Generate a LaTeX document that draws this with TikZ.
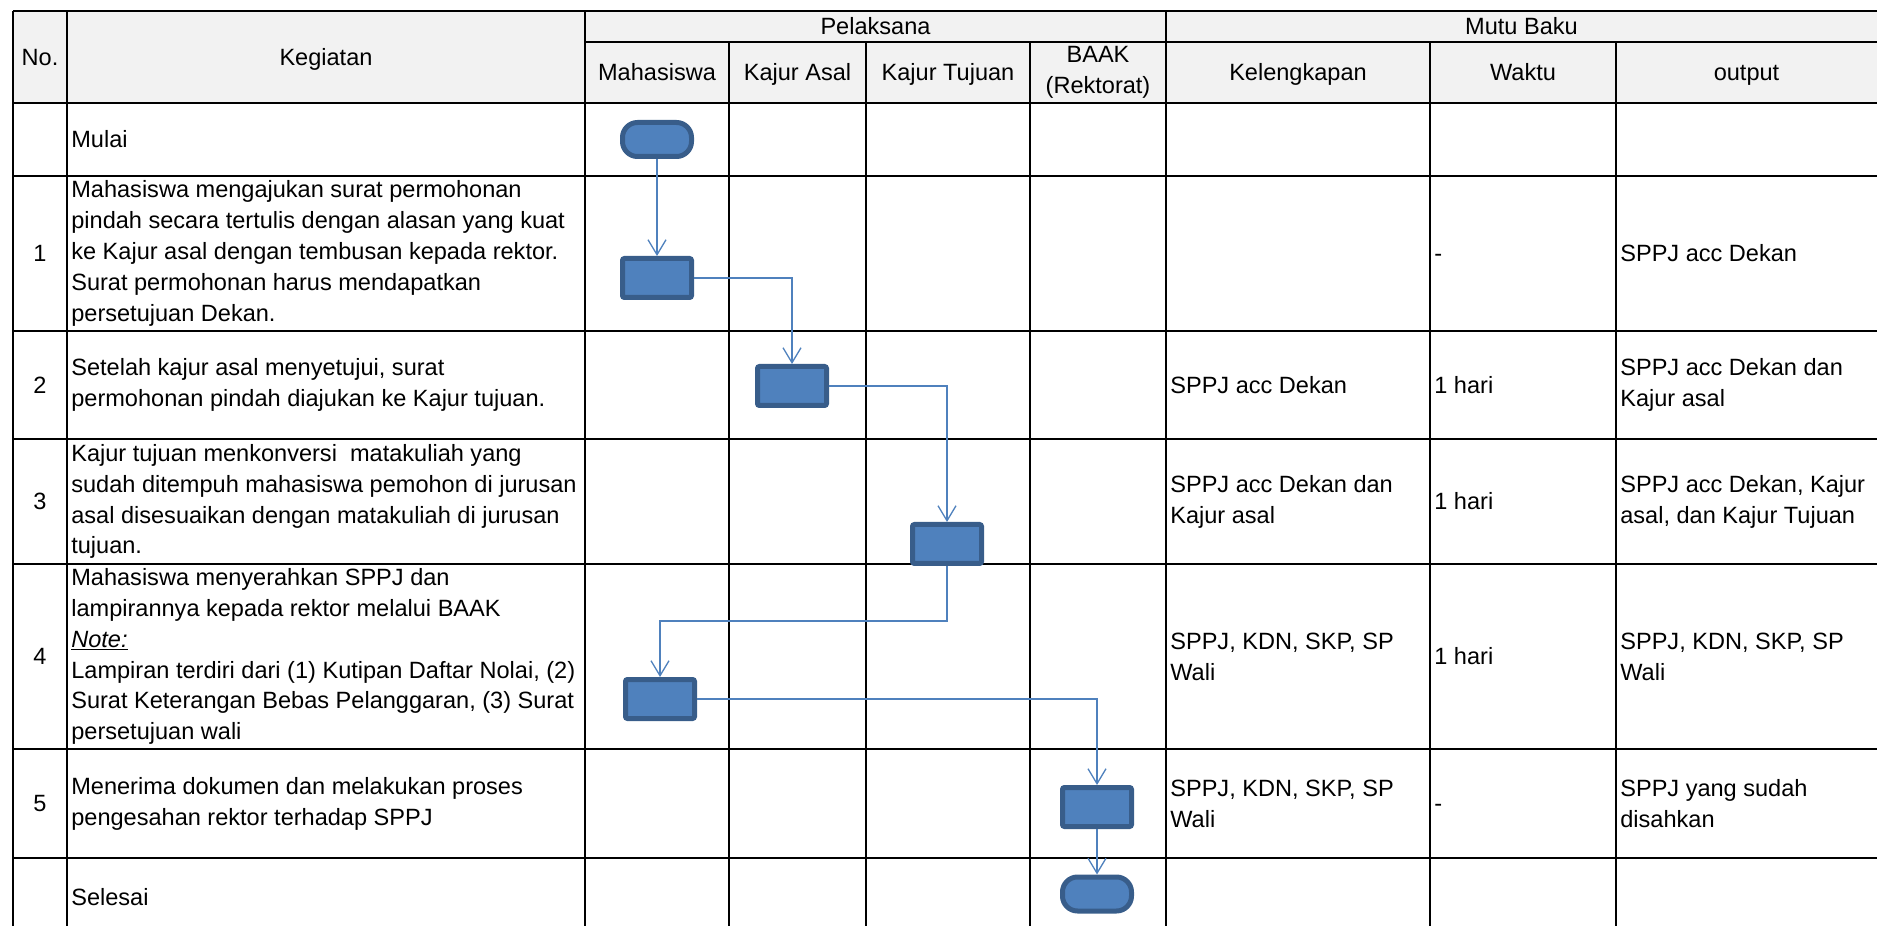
\documentclass[tikz,border=0pt]{standalone}
\usepackage{fontspec}
\setmainfont{Liberation Sans}
\usepackage{tikz}
\usetikzlibrary{arrows.meta, positioning, shapes}

\definecolor{headgray}{HTML}{F2F2F2}
\definecolor{flowfill}{HTML}{4F81BD}
\definecolor{flowline}{HTML}{385D8A}

\begin{document}
\begin{tikzpicture}[
  txt/.style={draw=none, inner sep=0pt, font=\fontsize{13.4pt}{17.6pt}\selectfont},
  cell/.style={txt, text height=12.1pt, text depth=2.8pt},
  grid/.style={draw=black, line width=0.032cm},
  proc/.style={draw=flowline, fill=flowfill, line width=0.1cm, rounded corners=0.04cm,
               minimum width=1.38cm, minimum height=0.78cm, inner sep=0pt},
  term/.style={proc, rounded corners=0.3cm, minimum height=0.68cm},
  flow/.style={->, draw=flowfill, line width=0.026cm},
  >={Straight Barb[length=0.3cm, width=0.36cm]}
]

\useasboundingbox (0cm, 0cm) rectangle (37.54cm, 18.52cm);

\def \xno{0.26cm}   % left border
\def \xkeg{1.34cm}  % No. | Kegiatan
\def \xmhs{11.70cm} % Kegiatan | Mahasiswa
\def \xasal{14.58cm}
\def \xtuj{17.32cm}
\def \xbaak{20.60cm}
\def \xkel{23.32cm}
\def \xwak{28.60cm}
\def \xout{32.32cm}
\def \xend{37.54cm}

\def \ytop{18.30cm}
\def \ysub{17.68cm}  % under Pelaksana / Mutu Baku
\def \yhead{16.46cm} % bottom of header
\def \yrowa{15.00cm} % bottom of Mulai
\def \yrowb{11.90cm}
\def \yrowc{9.74cm}
\def \yrowd{7.24cm}
\def \yrowe{3.54cm}
\def \yrowf{1.36cm}
\def \ysel{0.58cm}   % Selesai
\def \ybot{0cm}

\def \pad{0.08cm}

% header background
\fill[headgray] (\xno, \ytop) rectangle (\xend, \yhead);

% hor lines from top to bottom
\draw[grid] (\xno , \ytop)  -- (\xend, \ytop);
\draw[grid] (\xmhs, \ysub)  -- (\xend, \ysub);
\draw[grid] (\xno , \yhead) -- (\xend, \yhead);
\draw[grid] (\xno , \yrowa) -- (\xend, \yrowa);
\draw[grid] (\xno , \yrowb) -- (\xend, \yrowb);
\draw[grid] (\xno , \yrowc) -- (\xend, \yrowc);
\draw[grid] (\xno , \yrowd) -- (\xend, \yrowd);
\draw[grid] (\xno , \yrowe) -- (\xend, \yrowe);
\draw[grid] (\xno , \yrowf) -- (\xend, \yrowf);

% vert lines from left to right
\draw[grid] (\xno  , \ytop) -- (\xno  , \ybot);
\draw[grid] (\xkeg , \ytop) -- (\xkeg , \ybot);
\draw[grid] (\xmhs , \ytop) -- (\xmhs , \ybot);
\draw[grid] (\xasal, \ysub) -- (\xasal, \ybot);
\draw[grid] (\xtuj , \ysub) -- (\xtuj , \ybot);
\draw[grid] (\xbaak, \ysub) -- (\xbaak, \ybot);
\draw[grid] (\xkel , \ytop) -- (\xkel , \ybot);
\draw[grid] (\xwak , \ysub) -- (\xwak , \ybot);
\draw[grid] (\xout , \ysub) -- (\xout , \ybot);

% header text
\node[cell] (hno)   at (\xno/2 + \xkeg/2, \ytop/2 + \yhead/2) {No.};
\node[cell] (hkeg)  at (\xkeg/2 + \xmhs/2, \ytop/2 + \yhead/2) {Kegiatan};
\node[cell] (hpel)  at (\xmhs/2 + \xkel/2, \ytop/2 + \ysub/2)  {Pelaksana};
\node[cell] (hmutu) at (\xkel/2 + \xend/2, \ytop/2 + \ysub/2)  {Mutu Baku};
\node[cell] (hmhs)  at (\xmhs/2 + \xasal/2, \ysub/2 + \yhead/2) {Mahasiswa};
\node[cell] (hasal) at (\xasal/2 + \xtuj/2, \ysub/2 + \yhead/2) {Kajur Asal};
\node[cell] (htuj)  at (\xtuj/2 + \xbaak/2, \ysub/2 + \yhead/2) {Kajur Tujuan};
\node[txt, align=center] (hbaak) at (\xbaak/2 + \xkel/2, \ysub/2 + \yhead/2) {BAAK\\(Rektorat)};
\node[cell] (hkel)  at (\xkel/2 + \xwak/2, \ysub/2 + \yhead/2)  {Kelengkapan};
\node[cell] (hwak)  at (\xwak/2 + \xout/2, \ysub/2 + \yhead/2)  {Waktu};
\node[cell] (hout)  at (\xout/2 + \xend/2, \ysub/2 + \yhead/2)  {output};

% numbers from top to bottom
\node[cell] (noa) at (\xno/2 + \xkeg/2, \yrowa/2 + \yrowb/2) {1};
\node[cell] (nob) at (\xno/2 + \xkeg/2, \yrowb/2 + \yrowc/2) {2};
\node[cell] (noc) at (\xno/2 + \xkeg/2, \yrowc/2 + \yrowd/2) {3};
\node[cell] (nod) at (\xno/2 + \xkeg/2, \yrowd/2 + \yrowe/2) {4};
\node[cell] (noe) at (\xno/2 + \xkeg/2, \yrowe/2 + \yrowf/2) {5};

% kegiatan from top to bottom
\node[cell, anchor=west] (kmulai) at (\xkeg + \pad, \yhead/2 + \yrowa/2) {Mulai};
\node[txt, anchor=west, align=left] (kega) at (\xkeg + \pad, \yrowa/2 + \yrowb/2)
  {Mahasiswa mengajukan surat permohonan\\pindah secara tertulis dengan alasan yang kuat\\ke Kajur asal dengan tembusan kepada rektor.\\Surat permohonan harus mendapatkan\\persetujuan Dekan.};
\node[txt, anchor=west, align=left] (kegb) at (\xkeg + \pad, \yrowb/2 + \yrowc/2)
  {Setelah kajur asal menyetujui, surat\\permohonan pindah diajukan ke Kajur tujuan.};
\node[txt, anchor=west, align=left] (kegc) at (\xkeg + \pad, \yrowc/2 + \yrowd/2)
  {Kajur tujuan menkonversi\ \ matakuliah yang\\sudah ditempuh mahasiswa pemohon di jurusan\\asal disesuaikan dengan matakuliah di jurusan\\tujuan.};
\node[txt, anchor=west, align=left] (kegd) at (\xkeg + \pad, \yrowd/2 + \yrowe/2)
  {Mahasiswa menyerahkan SPPJ dan\\lampirannya kepada rektor melalui BAAK\\\underline{\textit{Note:}}\\Lampiran terdiri dari (1) Kutipan Daftar Nolai, (2)\\Surat Keterangan Bebas Pelanggaran, (3) Surat\\persetujuan wali};
\node[txt, anchor=west, align=left] (kege) at (\xkeg + \pad, \yrowe/2 + \yrowf/2)
  {Menerima dokumen dan melakukan proses\\pengesahan rektor terhadap SPPJ};
\node[cell, anchor=west] (kselesai) at (\xkeg + \pad, \ysel) {Selesai};

% mutu baku from top to bottom
\node[cell, anchor=west] (waka) at (\xwak + \pad, \yrowa/2 + \yrowb/2) {-};
\node[cell, anchor=west] (outa) at (\xout + \pad, \yrowa/2 + \yrowb/2) {SPPJ acc Dekan};

\node[cell, anchor=west] (kelb) at (\xkel + \pad, \yrowb/2 + \yrowc/2) {SPPJ acc Dekan};
\node[cell, anchor=west] (wakb) at (\xwak + \pad, \yrowb/2 + \yrowc/2) {1 hari};
\node[txt, anchor=west, align=left] (outb) at (\xout + \pad, \yrowb/2 + \yrowc/2) {SPPJ acc Dekan dan\\Kajur asal};

\node[txt, anchor=west, align=left] (kelc) at (\xkel + \pad, \yrowc/2 + \yrowd/2) {SPPJ acc Dekan dan\\Kajur asal};
\node[cell, anchor=west] (wakc) at (\xwak + \pad, \yrowc/2 + \yrowd/2) {1 hari};
\node[txt, anchor=west, align=left] (outc) at (\xout + \pad, \yrowc/2 + \yrowd/2) {SPPJ acc Dekan, Kajur\\asal, dan Kajur Tujuan};

\node[txt, anchor=west, align=left] (keld) at (\xkel + \pad, \yrowd/2 + \yrowe/2) {SPPJ, KDN, SKP, SP\\Wali};
\node[cell, anchor=west] (wakd) at (\xwak + \pad, \yrowd/2 + \yrowe/2) {1 hari};
\node[txt, anchor=west, align=left] (outd) at (\xout + \pad, \yrowd/2 + \yrowe/2) {SPPJ, KDN, SKP, SP\\Wali};

\node[txt, anchor=west, align=left] (kele) at (\xkel + \pad, \yrowe/2 + \yrowf/2) {SPPJ, KDN, SKP, SP\\Wali};
\node[cell, anchor=west] (wake) at (\xwak + \pad, \yrowe/2 + \yrowf/2) {-};
\node[txt, anchor=west, align=left] (oute) at (\xout + \pad, \yrowe/2 + \yrowf/2) {SPPJ yang sudah\\disahkan};

% flow shapes from top to bottom
\node[term] (mulai)   at (13.14cm, 15.73cm) {};
\node[proc] (boxa)    at (13.14cm, 12.96cm) {};
\node[proc] (boxb)    at (15.84cm, 10.80cm) {};
\node[proc] (boxc)    at (18.94cm, 7.64cm)  {};
\node[proc] (boxd)    at (13.20cm, 4.54cm)  {};
\node[proc] (boxe)    at (21.94cm, 2.38cm)  {};
\node[term] (selesai) at (21.94cm, 0.64cm)  {};

% flow arrows
\draw[flow] (mulai) -- (boxa);
\draw[flow] (boxa) -| (boxb);
\draw[flow] (boxb) -| (boxc);
\draw[flow] (boxc.south) -- ++(0cm, -1.10cm) -| (boxd);
\draw[flow] (boxd) -| (boxe);
\draw[flow] (boxe) -- (selesai);

\end{tikzpicture}
\end{document}
